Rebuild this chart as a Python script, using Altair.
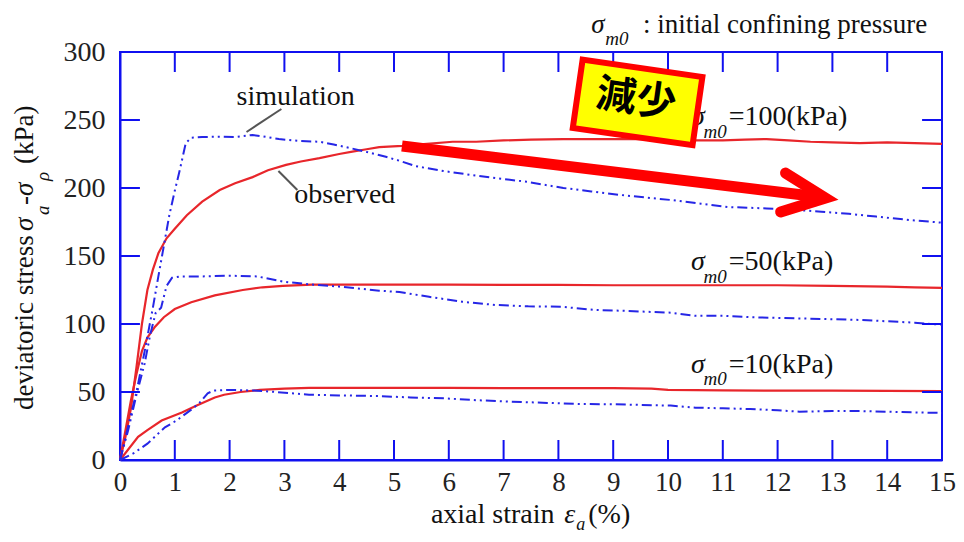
import altair as alt
import pandas as pd

# ---------------- data (strain %, deviatoric stress kPa) ----------------
obs100_x = [0, 0.1, 0.2, 0.3, 0.4, 0.5, 0.6, 0.7, 0.85, 1.0, 1.22, 1.5, 1.82, 2.1, 2.42, 2.7, 3.03, 3.3, 3.64, 4.0,
            4.24, 4.5, 4.73, 5.15, 5.6, 6.07, 6.5, 7.0, 7.5, 8.09, 8.6, 9.0, 9.5, 10.0, 10.5, 11.0, 11.4, 11.8, 12.2,
            12.6, 13.0, 13.5, 14.0, 14.5, 15.0]
obs100_y = [0, 17, 38, 68, 100, 125, 140, 152, 163, 170, 180, 190, 198.5, 203.5, 208, 213, 217, 219.5, 222, 225,
            226.7, 228.5, 230, 231, 232.5, 234, 234, 235, 235.5, 236, 236, 236, 236, 235.5, 235, 235, 235.5, 236, 235,
            234, 233.5, 233, 233.5, 233, 232.5]

sim100_x = [0, 0.15, 0.3, 0.45, 0.6, 0.7, 0.78, 0.9, 1.0, 1.09, 1.2, 1.3, 1.5, 1.82, 2.1, 2.42, 2.6, 2.9, 3.3, 3.64,
            3.9, 4.24, 4.55, 4.85, 5.1, 5.4, 5.9, 6.41, 6.9, 7.42, 8.09, 8.6, 9.1, 9.6, 10.1, 10.6, 11.1, 11.8, 12.3,
            12.8, 13.3, 13.8, 14.4, 15.0]
sim100_y = [0, 25, 50, 80, 112, 135, 153, 180, 198, 213, 233, 237, 237.5, 237.7, 237.5, 239, 238, 236, 234.5, 234,
            232, 229, 226, 223, 220, 216, 212.5, 209.6, 207, 204.6, 200, 197.5, 195, 193, 191, 188.5, 186, 185, 184,
            182.6, 181, 179, 176.5, 174.5]

obs50_x = [0, 0.1, 0.2, 0.3, 0.4, 0.5, 0.64, 0.8, 1.0, 1.3, 1.73, 2.24, 2.6, 2.97, 3.5, 4.0, 5, 6, 7, 8, 9, 10, 11,
           12, 13, 14, 14.5, 15]
obs50_y = [0, 22, 44, 63, 80, 90, 98, 105, 111, 116, 121, 125, 127, 128, 129, 129, 129, 129, 128.7, 128.7, 128.5,
           128.5, 128.5, 128.5, 128, 127.5, 127, 126.5]

sim50_x = [0, 0.15, 0.3, 0.45, 0.55, 0.65, 0.75, 0.85, 0.95, 1.1, 1.5, 2.0, 2.5, 3.0, 3.5, 4.0, 4.73, 5.1, 5.64,
           6.24, 6.85, 7.45, 8.05, 8.67, 9.27, 10.05, 10.5, 11.0, 11.5, 12.0, 12.5, 13.0, 13.5, 14.0, 14.5, 14.8, 15.0]
sim50_y = [0, 22, 48, 71, 92, 108, 112, 128, 134, 135, 135, 135.5, 135, 131, 129, 127.5, 124.5, 123.5, 120, 116.4,
           114, 113, 112.7, 110.3, 109.6, 108.3, 106, 106, 105, 104.5, 104, 103.5, 103, 102, 101, 100, 99.5]

obs10_x = [0, 0.33, 0.5, 0.76, 1.13, 1.4, 1.73, 1.9, 2.2, 2.55, 3.0, 3.45, 4, 5, 6, 7, 8, 9, 9.7, 10, 11, 12, 13,
           14, 15]
obs10_y = [0, 17, 22, 29, 35, 40, 46, 48, 50, 51.5, 52.5, 53, 53, 53, 53, 52.8, 52.8, 52.8, 52.5, 51.5, 51.2, 51,
           51, 50.8, 50.7]

sim10_x = [0, 0.25, 0.5, 0.82, 1.03, 1.3, 1.45, 1.6, 1.7, 2.0, 2.5, 2.85, 3.45, 4.0, 4.73, 5.3, 5.94, 6.5, 7.15,
           7.8, 8.36, 9.0, 9.5, 10.05, 10.5, 11.0, 11.5, 12.0, 12.4, 13.0, 13.5, 14.0, 14.5, 15.0]
sim10_y = [0, 5, 12, 24, 29, 37, 42, 49, 51, 51.5, 51, 50, 48, 47.5, 47, 46, 45.3, 44, 42.9, 42, 41.2, 41, 40.5,
           40, 38.5, 38, 37.5, 36.5, 35.5, 36, 36, 35.5, 35, 34.6]

x_ticks = list(range(0, 16))
y_ticks = [0, 50, 100, 150, 200, 250, 300]

RED = "#e8262b"
BLUE = "#2626e6"
AXBLUE = "#1010f0"
SERIF = "Liberation Serif"


def sdf(xs, ys, name):
    return pd.DataFrame({"strain": xs, "stress": ys, "series": name})


obs = pd.concat([sdf(obs100_x, obs100_y, "o100"), sdf(obs50_x, obs50_y, "o50"), sdf(obs10_x, obs10_y, "o10")])
sim = pd.concat([sdf(sim100_x, sim100_y, "s100"), sdf(sim50_x, sim50_y, "s50"), sdf(sim10_x, sim10_y, "s10")])

xs = alt.Scale(domain=[0, 15], nice=False, zero=False)
ys = alt.Scale(domain=[0, 300], nice=False, zero=False)
XAX = alt.Axis(values=x_ticks, title=None, labelPadding=9, labelFlush=False, ticks=False, tickSize=0,
               labelFontSize=27)
YAX = alt.Axis(values=y_ticks, title=None, labelPadding=15, labelFlush=False, ticks=False, tickSize=0,
               labelFontSize=28)


def X(f):
    return alt.X(f, scale=xs, axis=XAX, title=None)


def Y(f):
    return alt.Y(f, scale=ys, axis=YAX, title=None)


obs_layer = alt.Chart(obs).mark_line(color=RED, strokeWidth=2.2).encode(
    x=X("strain:Q"), y=Y("stress:Q"), detail="series:N",
)
sim_layer = alt.Chart(sim).mark_line(color=BLUE, strokeWidth=2, strokeDash=[10, 4, 2, 4, 2, 4]).encode(
    x=X("strain:Q"), y=Y("stress:Q"), detail="series:N",
)

# inward ticks on all four sides
tk = 20 / 55.0
tky = 20 / 1.36
tick_rows = []
for v in x_ticks[1:-1]:
    tick_rows.append({"x": v, "x2": v, "y": 0, "y2": tky})
    tick_rows.append({"x": v, "x2": v, "y": 300, "y2": 300 - tky})
for v in y_ticks[1:-1]:
    tick_rows.append({"x": 0, "x2": tk, "y": v, "y2": v})
    tick_rows.append({"x": 15, "x2": 15 - tk, "y": v, "y2": v})
ticks = alt.Chart(pd.DataFrame(tick_rows)).mark_rule(color=AXBLUE, strokeWidth=2).encode(
    x=X("x:Q"), x2="x2:Q", y=Y("y:Q"), y2="y2:Q",
)


def texts(rows, size, style="normal", align="left", angle=0, font=SERIF, weight="normal", baseline="alphabetic",
          color="#111"):
    df = pd.DataFrame(rows, columns=["x", "y", "t"])
    return alt.Chart(df).mark_text(
        font=font, fontSize=size, fontStyle=style, align=align, angle=angle, fontWeight=weight,
        baseline=baseline, color=color,
    ).encode(x=X("x:Q"), y=Y("y:Q"), text="t:N")


normal_txt = texts([
    (2.127, 261.0, "simulation"),
    (3.18, 189.0, "observed"),
    (11.11, 246.3, "=100(kPa)"),
    (11.11, 139.7, "=50(kPa)"),
    (11.11, 64.0, "=10(kPa)"),
    (5.673, -46.3, "axial strain"),
    (8.545, -46.3, "(%)"),
], 28)
top_txt = texts([(9.545, 314.3, ": initial confining pressure")], 27)
sigma_txt = texts([
    (10.42, 246.3, "σ"),
    (10.42, 139.7, "σ"),
    (10.42, 64.0, "σ"),
    (8.109, -46.3, "ε"),
], 28, style="italic")
top_sigma = texts([(8.6, 314.3, "σ")], 27, style="italic")
sub_txt = texts([
    (10.65, 236.8, "m0"),
    (10.65, 130.1, "m0"),
    (10.65, 55.1, "m0"),
    (8.855, 305.1, "m0"),
], 19, style="italic")
eps_sub = texts([(8.327, -51.5, "a")], 18, style="italic")

# rotated y-axis title pieces
ytitle_main = texts([
    (-1.582, 36.8, "deviatoric stress"),
    (-1.582, 187.5, "-"),
    (-1.582, 217.6, "(kPa)"),
], 27, angle=270)
ytitle_sig = texts([
    (-1.582, 168.4, "σ"),
    (-1.582, 194.1, "σ"),
], 27, style="italic", angle=270)
ytitle_sub = texts([
    (-1.291, 180.1, "a"),
    (-1.291, 205.1, "ρ"),
], 19, style="italic", angle=270)

# leader lines
leaders = alt.Chart(pd.DataFrame([
    {"x": 2.945, "y": 258.1, "x2": 2.309, "y2": 241.2},
    {"x": 2.891, "y": 212.5, "x2": 3.236, "y2": 198.5},
])).mark_rule(color="#555", strokeWidth=2).encode(
    x=X("x:Q"), x2="x2:Q", y=Y("y:Q"), y2="y2:Q",
)

# red arrow
shaft = alt.Chart(pd.DataFrame([{"x": 5.145, "y": 230.9, "x2": 12.69, "y2": 193.7}])).mark_rule(
    color="#ff0000", strokeWidth=11, strokeCap="butt").encode(
    x=X("x:Q"), x2="x2:Q", y=Y("y:Q"), y2="y2:Q",
)
head = alt.Chart(pd.DataFrame({"x": [12.145, 12.873, 12.055], "y": [211.0, 192.6, 182.4], "o": [0, 1, 2]})).mark_line(
    color="#ff0000", strokeWidth=11, strokeCap="round", strokeJoin="miter").encode(
    x=X("x:Q"), y=Y("y:Q"), order="o:Q",
)

# yellow label box
box = alt.Chart(pd.DataFrame([{"x": 9.445, "y": 262.9}])).mark_point(
    shape="M-1,-0.57L1,-0.57L1,0.57L-1,0.57Z", filled=True, fill="#ffff00", stroke="#ff0000",
    strokeWidth=6, size=14641, angle=8.2, opacity=1, fillOpacity=1, strokeOpacity=1).encode(
    x=X("x:Q"), y=Y("y:Q"),
)
box_txt = texts([(9.418, 264.7, "減少")], 40, align="center", angle=8, font="Noto Sans CJK JP",
                weight="bold", baseline="middle", color="#000")

chart = alt.layer(
    obs_layer, sim_layer, ticks, leaders, normal_txt, top_txt, sigma_txt, top_sigma, sub_txt, eps_sub,
    ytitle_main, ytitle_sig, ytitle_sub, shaft, head, box, box_txt,
).properties(
    width=822, height=408,
    padding={"left": 112, "top": 44, "right": 14, "bottom": 74},
    autosize=alt.AutoSizeParams(type="none"),
    background="white",
).configure_view(
    stroke=AXBLUE, strokeWidth=2,
).configure_axis(
    domainColor=AXBLUE, domainWidth=2, ticks=False, tickSize=0, grid=False,
    labelFont=SERIF, labelFontSize=28, labelColor="#222",
)

chart.save("out.html", embed_options={"renderer": "svg", "actions": False})
